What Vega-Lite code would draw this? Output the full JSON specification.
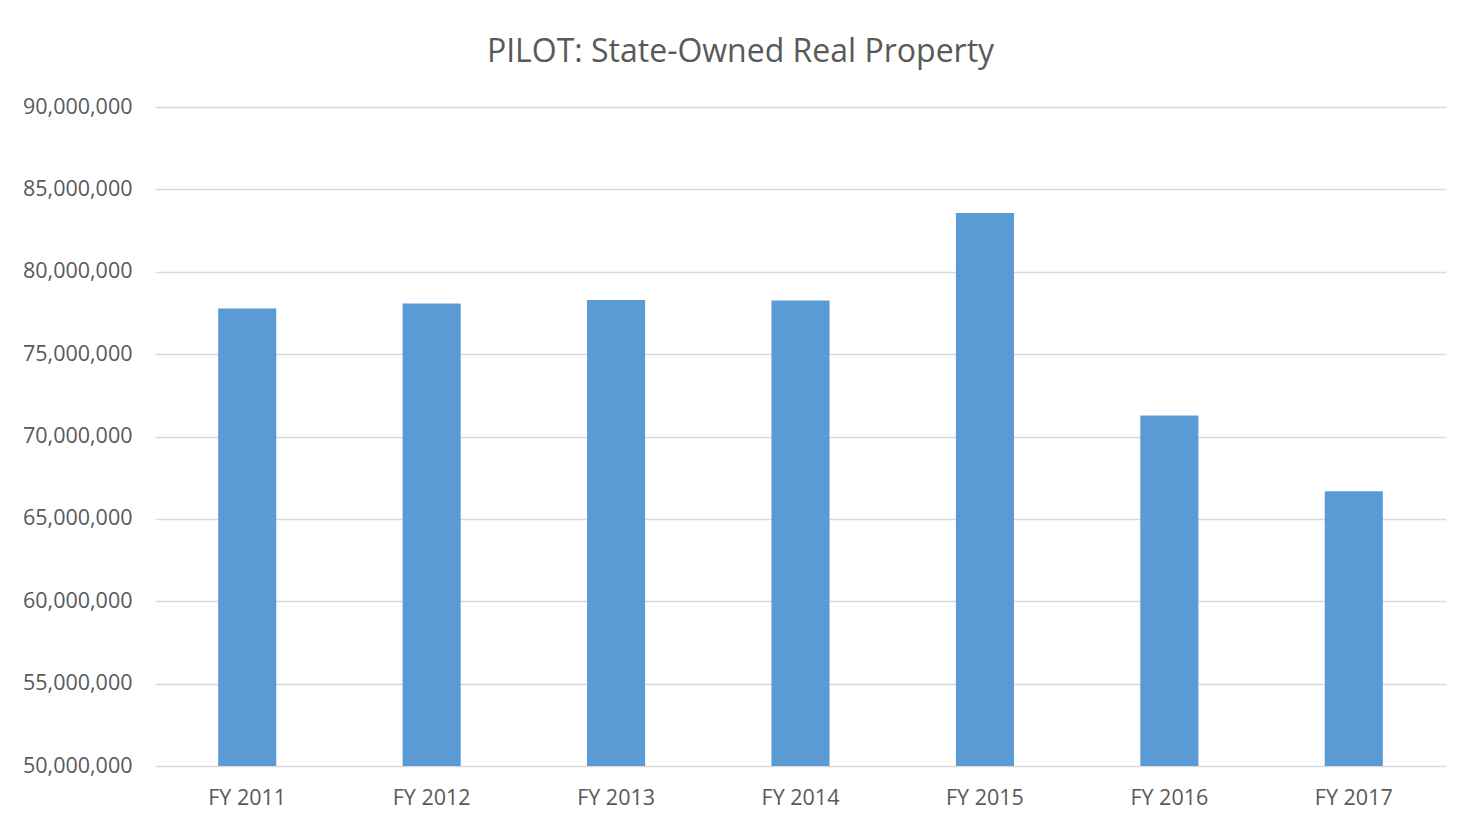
{
  "$schema": "https://vega.github.io/schema/vega-lite/v6.json",
  "autosize": {"type": "none"},
  "width": 1291,
  "height": 659,
  "padding": {"left": 155, "top": 107, "right": 34, "bottom": 59},
  "background": "white",
  "title": {
    "text": "PILOT: State-Owned Real Property",
    "font": "Open Sans",
    "fontSize": 32,
    "fontWeight": "normal",
    "color": "#595959",
    "anchor": "middle",
    "frame": "group",
    "dx": -60,
    "offset": 27
  },
  "data": {
    "values": [
      {"year": "FY 2011", "amount": 77770000},
      {"year": "FY 2012", "amount": 78080000},
      {"year": "FY 2013", "amount": 78280000},
      {"year": "FY 2014", "amount": 78260000},
      {"year": "FY 2015", "amount": 83570000},
      {"year": "FY 2016", "amount": 71280000},
      {"year": "FY 2017", "amount": 66670000}
    ]
  },
  "mark": {"type": "bar", "color": "#5B9BD5", "clip": true},
  "encoding": {
    "x": {
      "field": "year",
      "type": "nominal",
      "sort": null,
      "scale": {"paddingInner": 0.685, "paddingOuter": 0.3425},
      "axis": {
        "title": null,
        "labelAngle": 0,
        "domain": false,
        "ticks": false,
        "labelPadding": 21,
        "labelFont": "Open Sans",
        "labelFontSize": 21.5,
        "labelColor": "#595959"
      }
    },
    "y": {
      "field": "amount",
      "type": "quantitative",
      "scale": {"domain": [50000000, 90000000], "zero": false, "nice": false},
      "axis": {
        "title": null,
        "values": [50000000, 55000000, 60000000, 65000000, 70000000, 75000000, 80000000, 85000000, 90000000],
        "format": ",d",
        "domain": false,
        "ticks": false,
        "labelPadding": 23,
        "labelFont": "Open Sans",
        "labelFontSize": 21.5,
        "labelColor": "#595959",
        "gridColor": "#D9D9D9",
        "gridWidth": 1.5
      }
    }
  },
  "config": {"view": {"stroke": null}}
}
